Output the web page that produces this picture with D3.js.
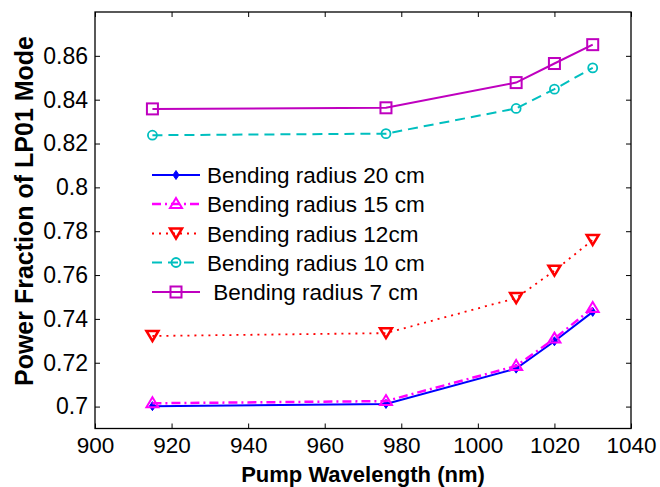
<!DOCTYPE html>
<html><head><meta charset="utf-8">
<script src="https://cdn.jsdelivr.net/npm/d3@7"></script>
<style>body{margin:0;background:#fff}svg{display:block}</style>
</head><body>
<svg id="c" width="660" height="487"></svg>
<script>
const wavelengths = [915, 976, 1010, 1020, 1030];
const r20 = [0.7002, 0.7012, 0.7173, 0.7298, 0.7432];
const r15 = [0.7015, 0.7025, 0.7185, 0.7310, 0.7450];
const r12 = [0.7322, 0.7335, 0.7495, 0.7620, 0.7760];
const r10 = [0.8238, 0.8245, 0.8360, 0.8448, 0.8545];
const r7 = [0.8358, 0.8363, 0.8478, 0.8565, 0.8651];
const seriesNames = ["Bending radius 20 cm", "Bending radius 15 cm", "Bending radius 12cm", "Bending radius 10 cm", " Bending radius 7 cm"];
const xTicks = [900, 920, 940, 960, 980, 1000, 1020, 1040];
const yTicks = [0.7, 0.72, 0.74, 0.76, 0.78, 0.8, 0.82, 0.84, 0.86];

const svg = d3.select("#c");
const L = 95, R = 631, T = 12, B = 428.5;
const x = d3.scaleLinear().domain([900, 1040]).range([L, R]);
const y = d3.scaleLinear().domain([0.69, 0.88]).range([B, T]);

const series = [
  {vals: r20, color: "#0000ff", dash: null, w: 2, marker: "diamond"},
  {vals: r15, color: "#ff00ff", dash: "9,4,2,4", w: 2.5, marker: "tri-up"},
  {vals: r12, color: "#ff0000", dash: "2,5", w: 1.8, marker: "tri-down"},
  {vals: r10, color: "#00bfbf", dash: "10,6", w: 2, marker: "circle"},
  {vals: r7, color: "#bf00bf", dash: null, w: 2, marker: "square"}
];

svg.append("rect").attr("x", L).attr("y", T).attr("width", R - L).attr("height", B - T)
  .attr("fill", "none").attr("stroke", "#000").attr("stroke-width", 1.3);

const font = "Arial, 'Liberation Sans', sans-serif";
const xa = svg.append("g").attr("transform", `translate(0,${B})`)
  .call(d3.axisBottom(x).tickValues(xTicks).tickSizeInner(-5).tickSizeOuter(0).tickPadding(9).tickFormat(d3.format("d")));
xa.select(".domain").remove();
xa.selectAll("text").attr("font-family", font).attr("font-size", 22.5).attr("fill", "#000");
const xt = svg.append("g").attr("transform", `translate(0,${T})`)
  .call(d3.axisTop(x).tickValues(xTicks).tickSizeInner(-5).tickSizeOuter(0).tickFormat(""));
xt.select(".domain").remove();
const ya = svg.append("g").attr("transform", `translate(${L},0)`)
  .call(d3.axisLeft(y).tickValues(yTicks).tickSizeInner(-5).tickSizeOuter(0).tickPadding(7).tickFormat(d => String(+d.toFixed(2))));
ya.select(".domain").remove();
ya.selectAll("text").attr("font-family", font).attr("font-size", 23).attr("fill", "#000");
const yr = svg.append("g").attr("transform", `translate(${R},0)`)
  .call(d3.axisRight(y).tickValues(yTicks).tickSizeInner(-5).tickSizeOuter(0).tickFormat(""));
yr.select(".domain").remove();
svg.selectAll(".tick line").attr("stroke", "#000").attr("stroke-width", 1);

svg.append("text").attr("x", (L + R) / 2).attr("y", 482).attr("text-anchor", "middle")
  .attr("font-family", font).attr("font-weight", "bold").attr("font-size", 22).text("Pump Wavelength (nm)");
svg.append("text").attr("transform", `translate(33,211) rotate(-90)`).attr("text-anchor", "middle")
  .attr("font-family", font).attr("font-weight", "bold").attr("font-size", 25).text("Power Fraction of LP01 Mode");

function drawMarker(g, type, cx, cy, color) {
  if (type === "diamond") {
    g.append("path").attr("d", `M${cx},${cy-4.5}L${cx+3},${cy}L${cx},${cy+4.5}L${cx-3},${cy}Z`).attr("fill", color).attr("stroke", color).attr("stroke-width", 1);
  } else if (type === "tri-up") {
    g.append("path").attr("d", `M${cx},${cy-6}L${cx+6},${cy+4}L${cx-6},${cy+4}Z`).attr("fill", "none").attr("stroke", color).attr("stroke-width", 2);
  } else if (type === "tri-down") {
    g.append("path").attr("d", `M${cx},${cy+5}L${cx+6},${cy-5}L${cx-6},${cy-5}Z`).attr("fill", "none").attr("stroke", color).attr("stroke-width", 2.5);
  } else if (type === "circle") {
    g.append("circle").attr("cx", cx).attr("cy", cy).attr("r", 4.5).attr("fill", "none").attr("stroke", color).attr("stroke-width", 1.8);
  } else if (type === "square") {
    g.append("rect").attr("x", cx - 5.5).attr("y", cy - 5.5).attr("width", 11).attr("height", 11).attr("fill", "none").attr("stroke", color).attr("stroke-width", 2);
  }
}

const line = d3.line().x((d, i) => x(wavelengths[i])).y(d => y(d));
series.forEach(s => {
  const g = svg.append("g");
  g.append("path").attr("d", line(s.vals)).attr("fill", "none").attr("stroke", s.color)
    .attr("stroke-width", s.w).attr("stroke-dasharray", s.dash);
  s.vals.forEach((v, i) => drawMarker(g, s.marker, x(wavelengths[i]), y(v), s.color));
});

const legY = [175, 204, 233.5, 262.5, 292];
series.forEach((s, i) => {
  const g = svg.append("g");
  g.append("line").attr("x1", 152).attr("x2", 200).attr("y1", legY[i]).attr("y2", legY[i])
    .attr("stroke", s.color).attr("stroke-width", s.w).attr("stroke-dasharray", s.dash);
  drawMarker(g, s.marker, 176, legY[i], s.color);
  g.append("text").attr("x", 207).attr("y", legY[i] + 8).attr("font-family", font).attr("font-size", 22.5)
    .attr("xml:space", "preserve").style("white-space", "pre").text(seriesNames[i]);
});
</script>
</body></html>
